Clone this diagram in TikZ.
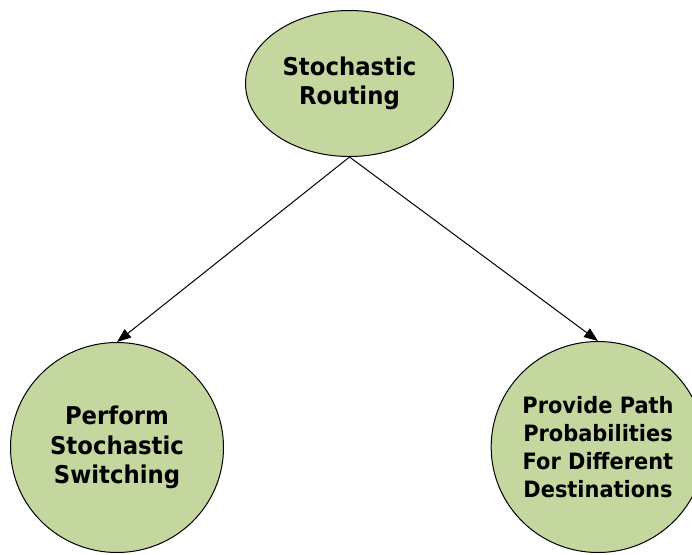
\documentclass[tikz,border=0pt]{standalone}
\usepackage{fontspec}
\newfontfamily\lblfont[FakeStretch=0.93]{DejaVu Sans}
\usetikzlibrary{shapes.geometric,arrows.meta}
\definecolor{leafgreen}{RGB}{196,215,158}
\tikzset{
  bubble/.style={ellipse, draw=black, line width=1pt, fill=leafgreen,
    inner sep=0pt, align=center, text=black},
  bigtext/.style={font=\lblfont\bfseries\fontsize{24.5}{29.5}\selectfont},
  smalltext/.style={font=\lblfont\bfseries\fontsize{22.5}{28}\selectfont},
  conn/.style={line width=1pt, -{Triangle[length=14pt,width=10.5pt]}}
}
\begin{document}
\begin{tikzpicture}[x=1pt,y=-1pt]
  \useasboundingbox (0,0) rectangle (692,554);
  \clip (0,0) rectangle (692,554);
  \node[bubble, bigtext, minimum width=208pt, minimum height=146pt]
    (root) at (349.5,83.5) {Stochastic\\Routing};
  \node[bubble, bigtext, minimum width=213pt, minimum height=210pt]
    (switch) at (117,447.5) {Perform\\Stochastic\\Switching};
  \node[bubble, smalltext, minimum width=212pt, minimum height=211pt]
    (paths) at (598,447) {Provide Path\\Probabilities\\For Different\\Destinations};
  \draw[conn] (root.south) -- (switch.north);
  \draw[conn] (root.south) -- (paths.north);
\end{tikzpicture}
\end{document}
